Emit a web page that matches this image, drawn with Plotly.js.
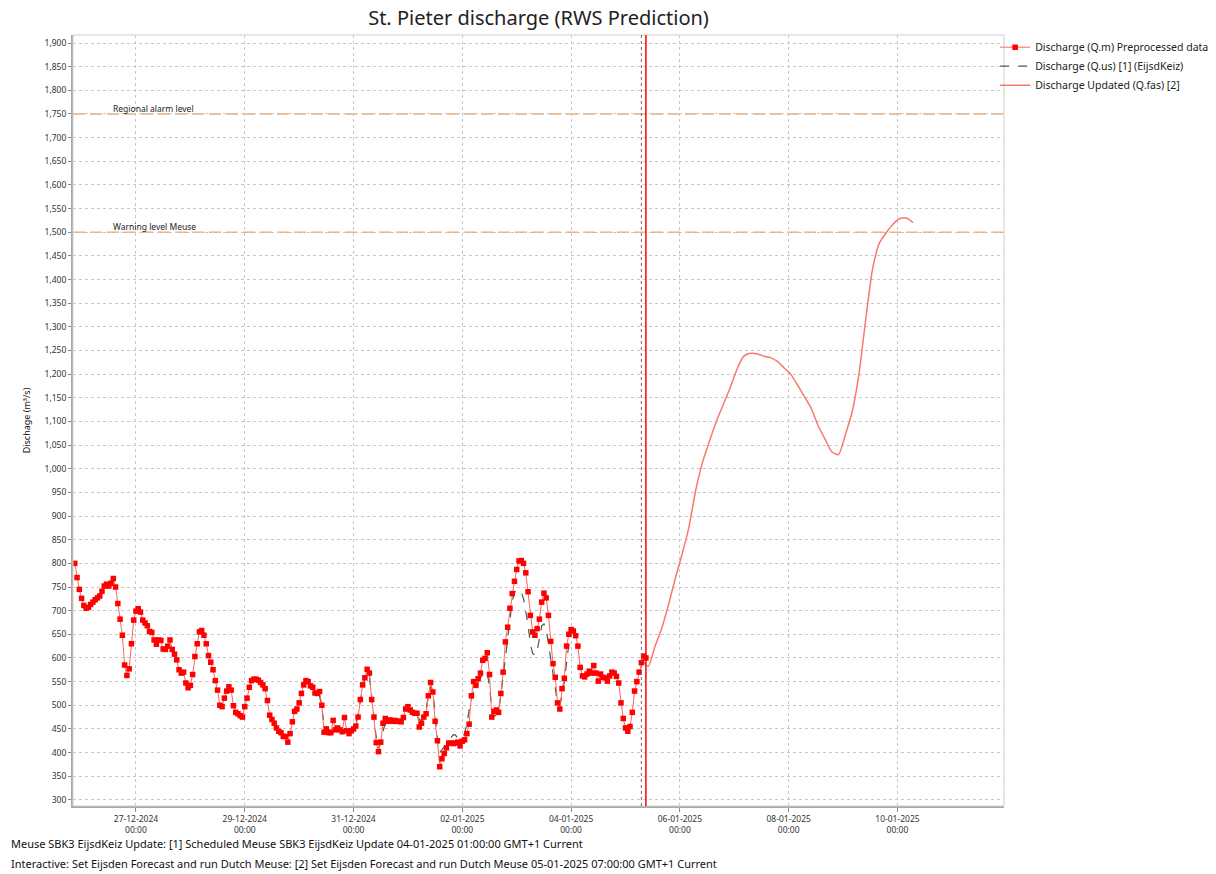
<!DOCTYPE html>
<html>
<head>
<meta charset="utf-8">
<script src="https://cdn.plot.ly/plotly-3.0.1.min.js"></script>
<style>html,body{margin:0;padding:0;background:#fff;}#chart{width:1216px;height:874px;}</style>
</head>
<body>
<div id="chart"></div>
<script>
// Observed hourly discharge Q.m, starting 25-12-2024 21:00
const qmStart = "2024-12-25T21:00";
const qmValues = [
800,770,745,726,711,705,707,713,718,723,
727,731,741,752,756,752,758,768,750,715,
682,648,585,563,577,630,680,699,704,697,
680,674,668,656,654,638,629,638,637,619,
618,625,638,618,608,596,575,568,570,547,
537,542,565,603,630,655,658,648,630,605,
591,575,552,532,500,497,515,530,539,532,
499,485,482,478,475,497,515,538,552,555,
555,553,548,543,535,510,479,470,462,452,
445,442,434,434,422,440,465,487,492,505,
525,543,552,550,541,538,526,525,529,500,
443,450,442,442,468,448,452,448,444,474,
446,440,446,450,456,475,512,543,558,576,
568,512,475,421,402,422,462,472,466,469,
466,468,466,466,465,474,492,497,490,485,
483,483,454,462,475,482,520,548,528,466,
425,370,387,398,410,420,420,419,420,422,
414,424,427,440,460,520,550,542,556,568,
595,599,611,565,475,487,490,485,525,570,
634,665,705,736,762,787,805,806,800,780,
740,690,655,648,662,682,718,737,727,690,
635,588,559,505,492,535,557,625,650,660,
657,647,625,580,562,560,566,572,568,584,
568,551,566,559,558,551,562,570,568,561,
547,505,472,452,445,455,485,530,550,570,
590,604,600
];

// EijsdKeiz hourly discharge Q.us, starting 30-12-2024 03:00
const qusStart = "2024-12-30T03:00";
const qusValues = [
552,548,542,536,530,526,520,495,
460,450,448,447,448,449,450,449,448,450,
448,446,448,452,462,480,510,538,555,568,
562,520,478,432,410,418,445,462,468,470,
468,470,472,470,472,480,490,495,490,486,
484,480,470,468,476,490,520,540,530,480,
430,400,405,412,418,425,432,438,437,430,
428,432,440,460,490,512,530,540,550,558,
565,570,568,540,490,476,480,490,520,560,
610,650,690,720,738,744,744,740,725,700,
670,630,610,605,615,640,668,672,660,630,
598,565,530,505,500,520,550,590,630,650
];

// Forecast Q.fas, 3-hourly, starting 05-01-2025 07:00
const qfasStart = "2025-01-05T07:00";
const qfasStepHours = 3;
const qfasValues = [
598,582,624,663,713,769,820,877,955,1014,
1058,1099,1134,1169,1208,1237,1244,1243,1238,1235,
1227,1213,1199,1176,1152,1127,1091,1063,1036,1030,
1072,1120,1200,1316,1422,1477,1499,1517,1529,1530,
1520
];

const levelValues = [1750, 1500];
const levelLabels = ["Regional alarm level", "Warning level Meuse"];

const tickDates = ["2024-12-27","2024-12-29","2024-12-31","2025-01-02","2025-01-04","2025-01-06","2025-01-08","2025-01-10"];
const tickLabels = ["27-12-2024<br>00:00","29-12-2024<br>00:00","31-12-2024<br>00:00","02-01-2025<br>00:00","04-01-2025<br>00:00","06-01-2025<br>00:00","08-01-2025<br>00:00","10-01-2025<br>00:00"];

const forecastTime = "2025-01-05 07:00";
const systemTime = "2025-01-05 09:00";

const footer1 = "Meuse SBK3 EijsdKeiz Update: [1] Scheduled Meuse SBK3 EijsdKeiz Update 04-01-2025 01:00:00 GMT+1 Current";
const footer2 = "Interactive: Set Eijsden Forecast and run Dutch Meuse: [2] Set Eijsden Forecast and run Dutch Meuse 05-01-2025 07:00:00 GMT+1 Current";

function timeSeries(startIso, n, stepH) {
  const [d, t] = startIso.split("T");
  const [Y, M, D] = d.split("-").map(Number);
  const [h, m] = t.split(":").map(Number);
  const base = Date.UTC(Y, M - 1, D, h, m);
  const out = [];
  for (let i = 0; i < n; i++) {
    out.push(new Date(base + i * stepH * 3600000).toISOString().slice(0, 16).replace("T", " "));
  }
  return out;
}

const font = "Noto Sans, Open Sans, sans-serif";

const traces = [
  {
    name: "Discharge (Q.us) [1] (EijsdKeiz)",
    x: timeSeries(qusStart, qusValues.length, 1), y: qusValues,
    mode: "lines", type: "scatter", legendrank: 2,
    line: {color: "rgb(70,90,70)", width: 1.2, dash: "dash"}
  },
  {
    name: "Discharge Updated (Q.fas) [2]",
    x: timeSeries(qfasStart, qfasValues.length, qfasStepHours), y: qfasValues,
    mode: "lines", type: "scatter", legendrank: 3,
    line: {color: "rgb(250,120,105)", width: 1.5, shape: "spline", smoothing: 0.6}
  },
  {
    name: "Discharge (Q.m) Preprocessed data",
    x: timeSeries(qmStart, qmValues.length, 1), y: qmValues,
    mode: "lines+markers", type: "scatter", legendrank: 1,
    line: {color: "rgb(255,100,90)", width: 1},
    marker: {symbol: "square", size: 5.5, color: "rgb(255,0,0)"}
  }
];

const shapes = [
  {type: "rect", xref: "paper", yref: "paper", x0: 0, x1: 1, y0: 0, y1: 1, line: {color: "#cfcfcf", width: 1}, layer: "above"},
  {type: "line", xref: "x", yref: "paper", x0: forecastTime, x1: forecastTime, y0: 0, y1: 1, line: {color: "rgb(110,110,110)", width: 1, dash: "dot"}},
  {type: "line", xref: "x", yref: "paper", x0: systemTime, x1: systemTime, y0: 0, y1: 1, line: {color: "rgb(255,0,0)", width: 1.5}}
];
const annotations = [];
levelValues.forEach((v, i) => {
  shapes.push({type: "line", xref: "paper", yref: "y", x0: 0, x1: 1, y0: v, y1: v, line: {color: "rgb(244,170,110)", width: 1.5, dash: "12px,5px"}, layer: "below"});
  annotations.push({xref: "paper", yref: "y", x: 0.041, y: v, xanchor: "left", yanchor: "bottom", yshift: -2, text: levelLabels[i], showarrow: false, font: {family: font, size: 8.5, color: "#222"}});
});
annotations.push({xref: "paper", yref: "paper", x: -0.0685, y: -0.049, xanchor: "left", yanchor: "middle", text: footer1, showarrow: false, font: {family: font, size: 11, color: "#111"}});
annotations.push({xref: "paper", yref: "paper", x: -0.0685, y: -0.074, xanchor: "left", yanchor: "middle", text: footer2, showarrow: false, font: {family: font, size: 11, color: "#111"}});

const layout = {
  width: 1216, height: 874,
  margin: {l: 73, r: 212, t: 35, b: 68, autoexpand: false},
  paper_bgcolor: "#fff", plot_bgcolor: "#fff",
  font: {family: font, size: 9, color: "#333"},
  title: {text: "St. Pieter discharge (RWS Prediction)", font: {family: font, size: 20, color: "#222"}, x: 0.5, xref: "paper", xanchor: "center", y: 0.979, yanchor: "middle"},
  xaxis: {
    type: "date",
    range: ["2024-12-25 20:13", "2025-01-11 23:00"],
    tickvals: tickDates, ticktext: tickLabels,
    showgrid: true, gridcolor: "#c8c8c8", griddash: "dot", gridwidth: 1,
    showline: true, linecolor: "#a8a8a8", linewidth: 2,
    ticks: "outside", ticklen: 4, tickcolor: "#888",
    tickfont: {family: font, size: 8.5, color: "#333"},
    zeroline: false
  },
  yaxis: {
    range: [287, 1917],
    tick0: 300, dtick: 50,
    tickformat: ",d",
    showgrid: true, gridcolor: "#c8c8c8", griddash: "dot", gridwidth: 1,
    showline: true, linecolor: "#a8a8a8", linewidth: 2,
    ticks: "outside", ticklen: 3, tickcolor: "#888",
    tickfont: {family: font, size: 8.5, color: "#333"},
    title: {text: "Dischage (m³/s)", font: {family: font, size: 9, color: "#111"}, standoff: 12},
    zeroline: false
  },
  legend: {
    x: 0.9905, xanchor: "left", y: 1.003, yanchor: "top",
    font: {family: font, size: 10.5, color: "#222"},
    bgcolor: "rgba(0,0,0,0)", itemwidth: 30, tracegroupgap: 0
  },
  showlegend: true,
  shapes: shapes,
  annotations: annotations
};

Plotly.newPlot("chart", traces, layout, {displayModeBar: false, staticPlot: true});
</script>
</body>
</html>
